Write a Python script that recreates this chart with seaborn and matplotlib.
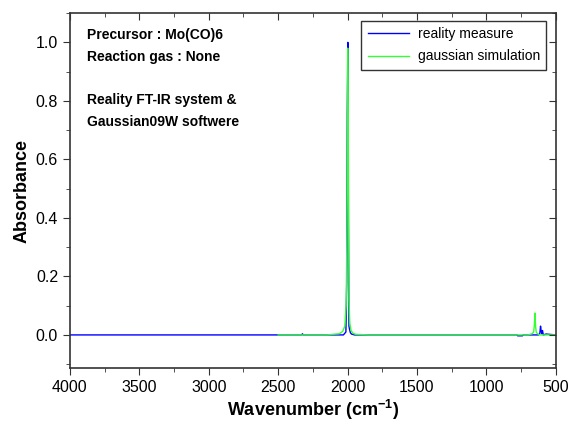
import numpy as np
import pandas as pd
import matplotlib
matplotlib.use("Agg")
import matplotlib.pyplot as plt
import seaborn as sns
from matplotlib.ticker import MultipleLocator, FormatStrFormatter

# reality measure (FT-IR)
meas_x = [4000, 2330, 2325, 2320, 2030, 2012, 2006, 2002, 1998, 1994, 1990, 1986, 1980, 1972, 1950,
          780, 775, 740, 735, 625, 615, 610, 605, 600, 596, 590, 570, 500]
meas_y = [0.0, 0.0, 0.004, 0.0, 0.0, 0.01, 0.18, 0.76, 1.0, 0.4, 0.03, 0.02, 0.008, 0.003, 0.0,
          0.0, -0.003, -0.003, 0.0, 0.0, 0.005, 0.03, 0.012, 0.004, 0.015, 0.0, 0.003, 0.0]

# gaussian simulation
sim_x = [2500, 2150, 2060, 2035, 2020, 2010, 2004, 1999, 1995, 1990, 1984, 1975, 1960, 1940, 1850,
         700, 670, 660, 655, 650, 646, 641, 632, 615, 500]
sim_y = [0.0, 0.0, 0.004, 0.012, 0.03, 0.1, 0.37, 0.98, 0.7, 0.12, 0.04, 0.015, 0.005, 0.002, 0.0,
         0.0, 0.004, 0.01, 0.03, 0.075, 0.03, 0.01, 0.004, 0.0, 0.0]

df_meas = pd.DataFrame({"x": meas_x, "y": meas_y})
df_sim = pd.DataFrame({"x": sim_x, "y": sim_y})

plt.rcParams["font.family"] = ["Liberation Sans", "DejaVu Sans"]
plt.rcParams["mathtext.fontset"] = "custom"
plt.rcParams["mathtext.bf"] = "Liberation Sans:bold"
plt.rcParams["mathtext.rm"] = "Liberation Sans"
fig = plt.figure(figsize=(5.73, 4.22), dpi=100)
ax = fig.add_axes([0.122, 0.128, 0.848, 0.841])

sns.lineplot(data=df_meas, x="x", y="y", sort=False, ax=ax, color="#0000ff", lw=1.0,
             label="reality measure")
sns.lineplot(data=df_sim, x="x", y="y", sort=False, ax=ax, color="#33ff33", lw=1.0,
             label="gaussian simulation")

ax.set_xlim(4000, 500)
ax.set_ylim(-0.113, 1.1)
ax.xaxis.set_major_locator(MultipleLocator(500))
ax.xaxis.set_minor_locator(MultipleLocator(250))
ax.set_yticks([0.0, 0.2, 0.4, 0.6, 0.8, 1.0])
ax.yaxis.set_minor_locator(MultipleLocator(0.1))
ax.yaxis.set_major_formatter(FormatStrFormatter("%.1f"))
ax.tick_params(axis="both", which="both", direction="out", labelsize=11.5, color="#333333")
ax.tick_params(which="major", length=5)
ax.tick_params(which="minor", length=3)

# inward ticks on top and right, origin style
top = ax.twiny()
top.set_xlim(ax.get_xlim())
top.xaxis.set_major_locator(MultipleLocator(500))
top.xaxis.set_minor_locator(MultipleLocator(250))
top.tick_params(axis="x", which="both", direction="in", labeltop=False)
right = ax.twinx()
right.set_ylim(ax.get_ylim())
right.yaxis.set_major_locator(MultipleLocator(0.2))
right.yaxis.set_minor_locator(MultipleLocator(0.1))
right.tick_params(axis="y", which="both", direction="in", labelright=False)
for tw in (top, right):
    tw.tick_params(which="major", length=5, color="#333333")
    tw.tick_params(which="minor", length=3, color="#333333")
    for s in tw.spines.values():
        s.set_visible(False)

for s in ax.spines.values():
    s.set_color("#333333")
    s.set_linewidth(1.2)

ax.set_xlabel("Wavenumber (cm$^{\\mathbf{-1}}$)", fontsize=13, fontweight="bold", labelpad=2)
ax.set_ylabel("Absorbance", fontsize=13, fontweight="bold")

ax.text(0.036, 0.938, "Precursor : Mo(CO)6", transform=ax.transAxes, fontsize=10,
        fontweight="bold", va="center")
ax.text(0.036, 0.876, "Reaction gas : None", transform=ax.transAxes, fontsize=10,
        fontweight="bold", va="center")
ax.text(0.036, 0.755, "Reality FT-IR system &", transform=ax.transAxes, fontsize=10,
        fontweight="bold", va="center")
ax.text(0.036, 0.693, "Gaussian09W softwere", transform=ax.transAxes, fontsize=10,
        fontweight="bold", va="center")

leg = ax.legend(loc="upper right", bbox_to_anchor=(0.98, 0.978), fontsize=10, frameon=True,
                fancybox=False, edgecolor="black", borderpad=0.45, handlelength=3.0,
                handletextpad=0.6, labelspacing=0.6, borderaxespad=0)
leg.get_frame().set_linewidth(1.0)

fig.savefig("out.png", dpi=100)
